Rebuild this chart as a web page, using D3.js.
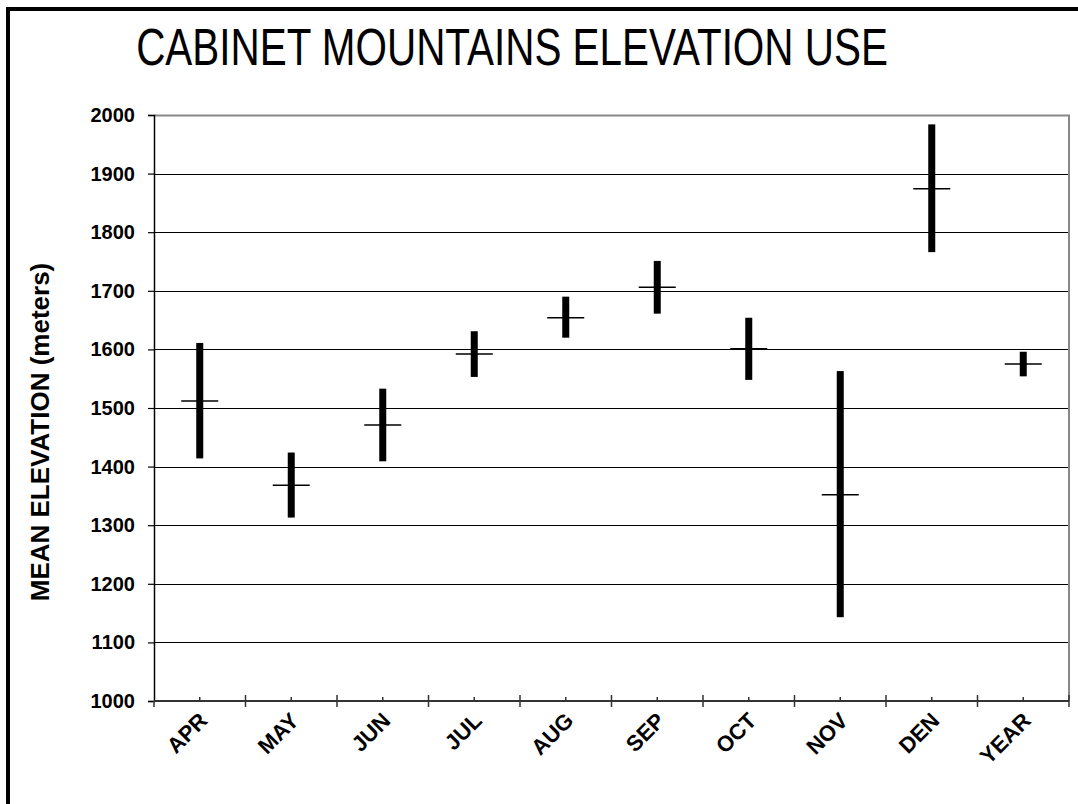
<!DOCTYPE html>
<html>
<head>
<meta charset="utf-8">
<script src="https://cdn.jsdelivr.net/npm/d3@7"></script>
<style>
  html, body { margin: 0; padding: 0; background: #fff; }
  svg { display: block; }
</style>
</head>
<body>
<script>
// Monthly mean elevation with its range (meters)
const categories = ["APR", "MAY", "JUN", "JUL", "AUG", "SEP", "OCT", "NOV", "DEN", "YEAR"];
const meanValues = [1512, 1368, 1471, 1592, 1654, 1706, 1601, 1352, 1874, 1575];
const lowValues  = [1414, 1313, 1409, 1553, 1620, 1661, 1548, 1143, 1766, 1554];
const highValues = [1611, 1424, 1533, 1631, 1690, 1751, 1654, 1563, 1984, 1596];
const yTicks = [1000, 1100, 1200, 1300, 1400, 1500, 1600, 1700, 1800, 1900, 2000];

const W = 1078, H = 804;
const plot = { left: 154, right: 1069, top: 115, bottom: 701 };

const svg = d3.select("body").append("svg")
  .attr("width", W).attr("height", H);

// outer frame
svg.append("rect")
  .attr("x", 8).attr("y", 9)
  .attr("width", 1200).attr("height", 1000)
  .attr("fill", "none").attr("stroke", "#000").attr("stroke-width", 4);

// title, set in a condensed face (narrowed horizontally)
const title = svg.append("text")
  .attr("text-anchor", "middle")
  .attr("font-family", "'Liberation Sans', Arial, sans-serif")
  .attr("font-size", 52)
  .attr("fill", "#000")
  .text("CABINET MOUNTAINS ELEVATION USE");
const natural = title.node().getComputedTextLength();
title.attr("transform", `translate(512,65) scale(${752 / natural},1)`);

const x = d3.scaleBand().domain(categories).range([plot.left, plot.right]);
const y = d3.scaleLinear().domain([1000, 2000]).range([plot.bottom, plot.top]);

const font = "'Liberation Sans', Arial, sans-serif";

// horizontal gridlines
svg.append("g")
  .selectAll("line")
  .data(yTicks.filter(v => v > 1000 && v < 2000))
  .join("line")
  .attr("x1", plot.left).attr("x2", plot.right)
  .attr("y1", d => Math.round(y(d)) + 0.5).attr("y2", d => Math.round(y(d)) + 0.5)
  .attr("stroke", "#000").attr("stroke-width", 1.2);

// plot border (top and right)
svg.append("path")
  .attr("d", `M${plot.left},${plot.top + 0.5}H${plot.right}V${plot.bottom}`)
  .attr("fill", "none").attr("stroke", "#888").attr("stroke-width", 2);

// y axis
const yAxis = d3.axisLeft(y).tickValues(yTicks).tickSize(6).tickPadding(13)
  .tickFormat(d3.format("d"));
const gy = svg.append("g").attr("transform", `translate(${plot.left},0)`).call(yAxis);
gy.select(".domain").attr("stroke", "#000").attr("stroke-width", 1.5);
gy.selectAll(".tick line").attr("stroke", "#000").attr("stroke-width", 1.2);
gy.selectAll(".tick text")
  .attr("font-family", font).attr("font-size", 20).attr("font-weight", "bold")
  .attr("fill", "#000");

// x axis line
svg.append("line")
  .attr("x1", plot.left).attr("x2", plot.right)
  .attr("y1", plot.bottom).attr("y2", plot.bottom)
  .attr("stroke", "#333").attr("stroke-width", 2);

// x ticks at category boundaries
const bounds = categories.map(c => x(c)).concat([plot.right]);
svg.append("g").selectAll("line")
  .data(bounds)
  .join("line")
  .attr("x1", d => d).attr("x2", d => d)
  .attr("y1", (d, i) => i === 0 ? plot.bottom : plot.bottom - 6)
  .attr("y2", plot.bottom + 6)
  .attr("stroke", "#333").attr("stroke-width", 1.5);

// short ticks at category centers
svg.append("g").selectAll("line")
  .data(categories)
  .join("line")
  .attr("x1", d => x(d) + x.bandwidth() / 2).attr("x2", d => x(d) + x.bandwidth() / 2)
  .attr("y1", plot.bottom - 4).attr("y2", plot.bottom)
  .attr("stroke", "#333").attr("stroke-width", 1.5);

// category labels
svg.append("g").selectAll("text")
  .data(categories)
  .join("text")
  .attr("transform", d => `translate(${x(d) + x.bandwidth() / 2 + 9},${plot.bottom + 21}) rotate(-45)`)
  .attr("text-anchor", "end")
  .attr("font-family", font).attr("font-size", 22).attr("font-weight", "bold")
  .attr("fill", "#000")
  .text(d => d);

// y axis title
svg.append("text")
  .attr("transform", `translate(49,432) rotate(-90)`)
  .attr("text-anchor", "middle")
  .attr("font-family", font).attr("font-size", 26).attr("font-weight", "bold")
  .attr("fill", "#000")
  .text("MEAN ELEVATION (meters)");

// range bars
const rows = categories.map((c, i) => ({ c, lo: lowValues[i], hi: highValues[i], mean: meanValues[i] }));
const barW = 7;
svg.append("g").selectAll("rect")
  .data(rows)
  .join("rect")
  .attr("x", d => x(d.c) + x.bandwidth() / 2 - barW / 2)
  .attr("width", barW)
  .attr("y", d => y(d.hi))
  .attr("height", d => y(d.lo) - y(d.hi))
  .attr("fill", "#000");

// mean markers
const meanW = 37;
svg.append("g").selectAll("line")
  .data(rows)
  .join("line")
  .attr("x1", d => x(d.c) + x.bandwidth() / 2 - meanW / 2)
  .attr("x2", d => x(d.c) + x.bandwidth() / 2 + meanW / 2)
  .attr("y1", d => y(d.mean)).attr("y2", d => y(d.mean))
  .attr("stroke", "#000").attr("stroke-width", 1.5);
</script>
</body>
</html>
